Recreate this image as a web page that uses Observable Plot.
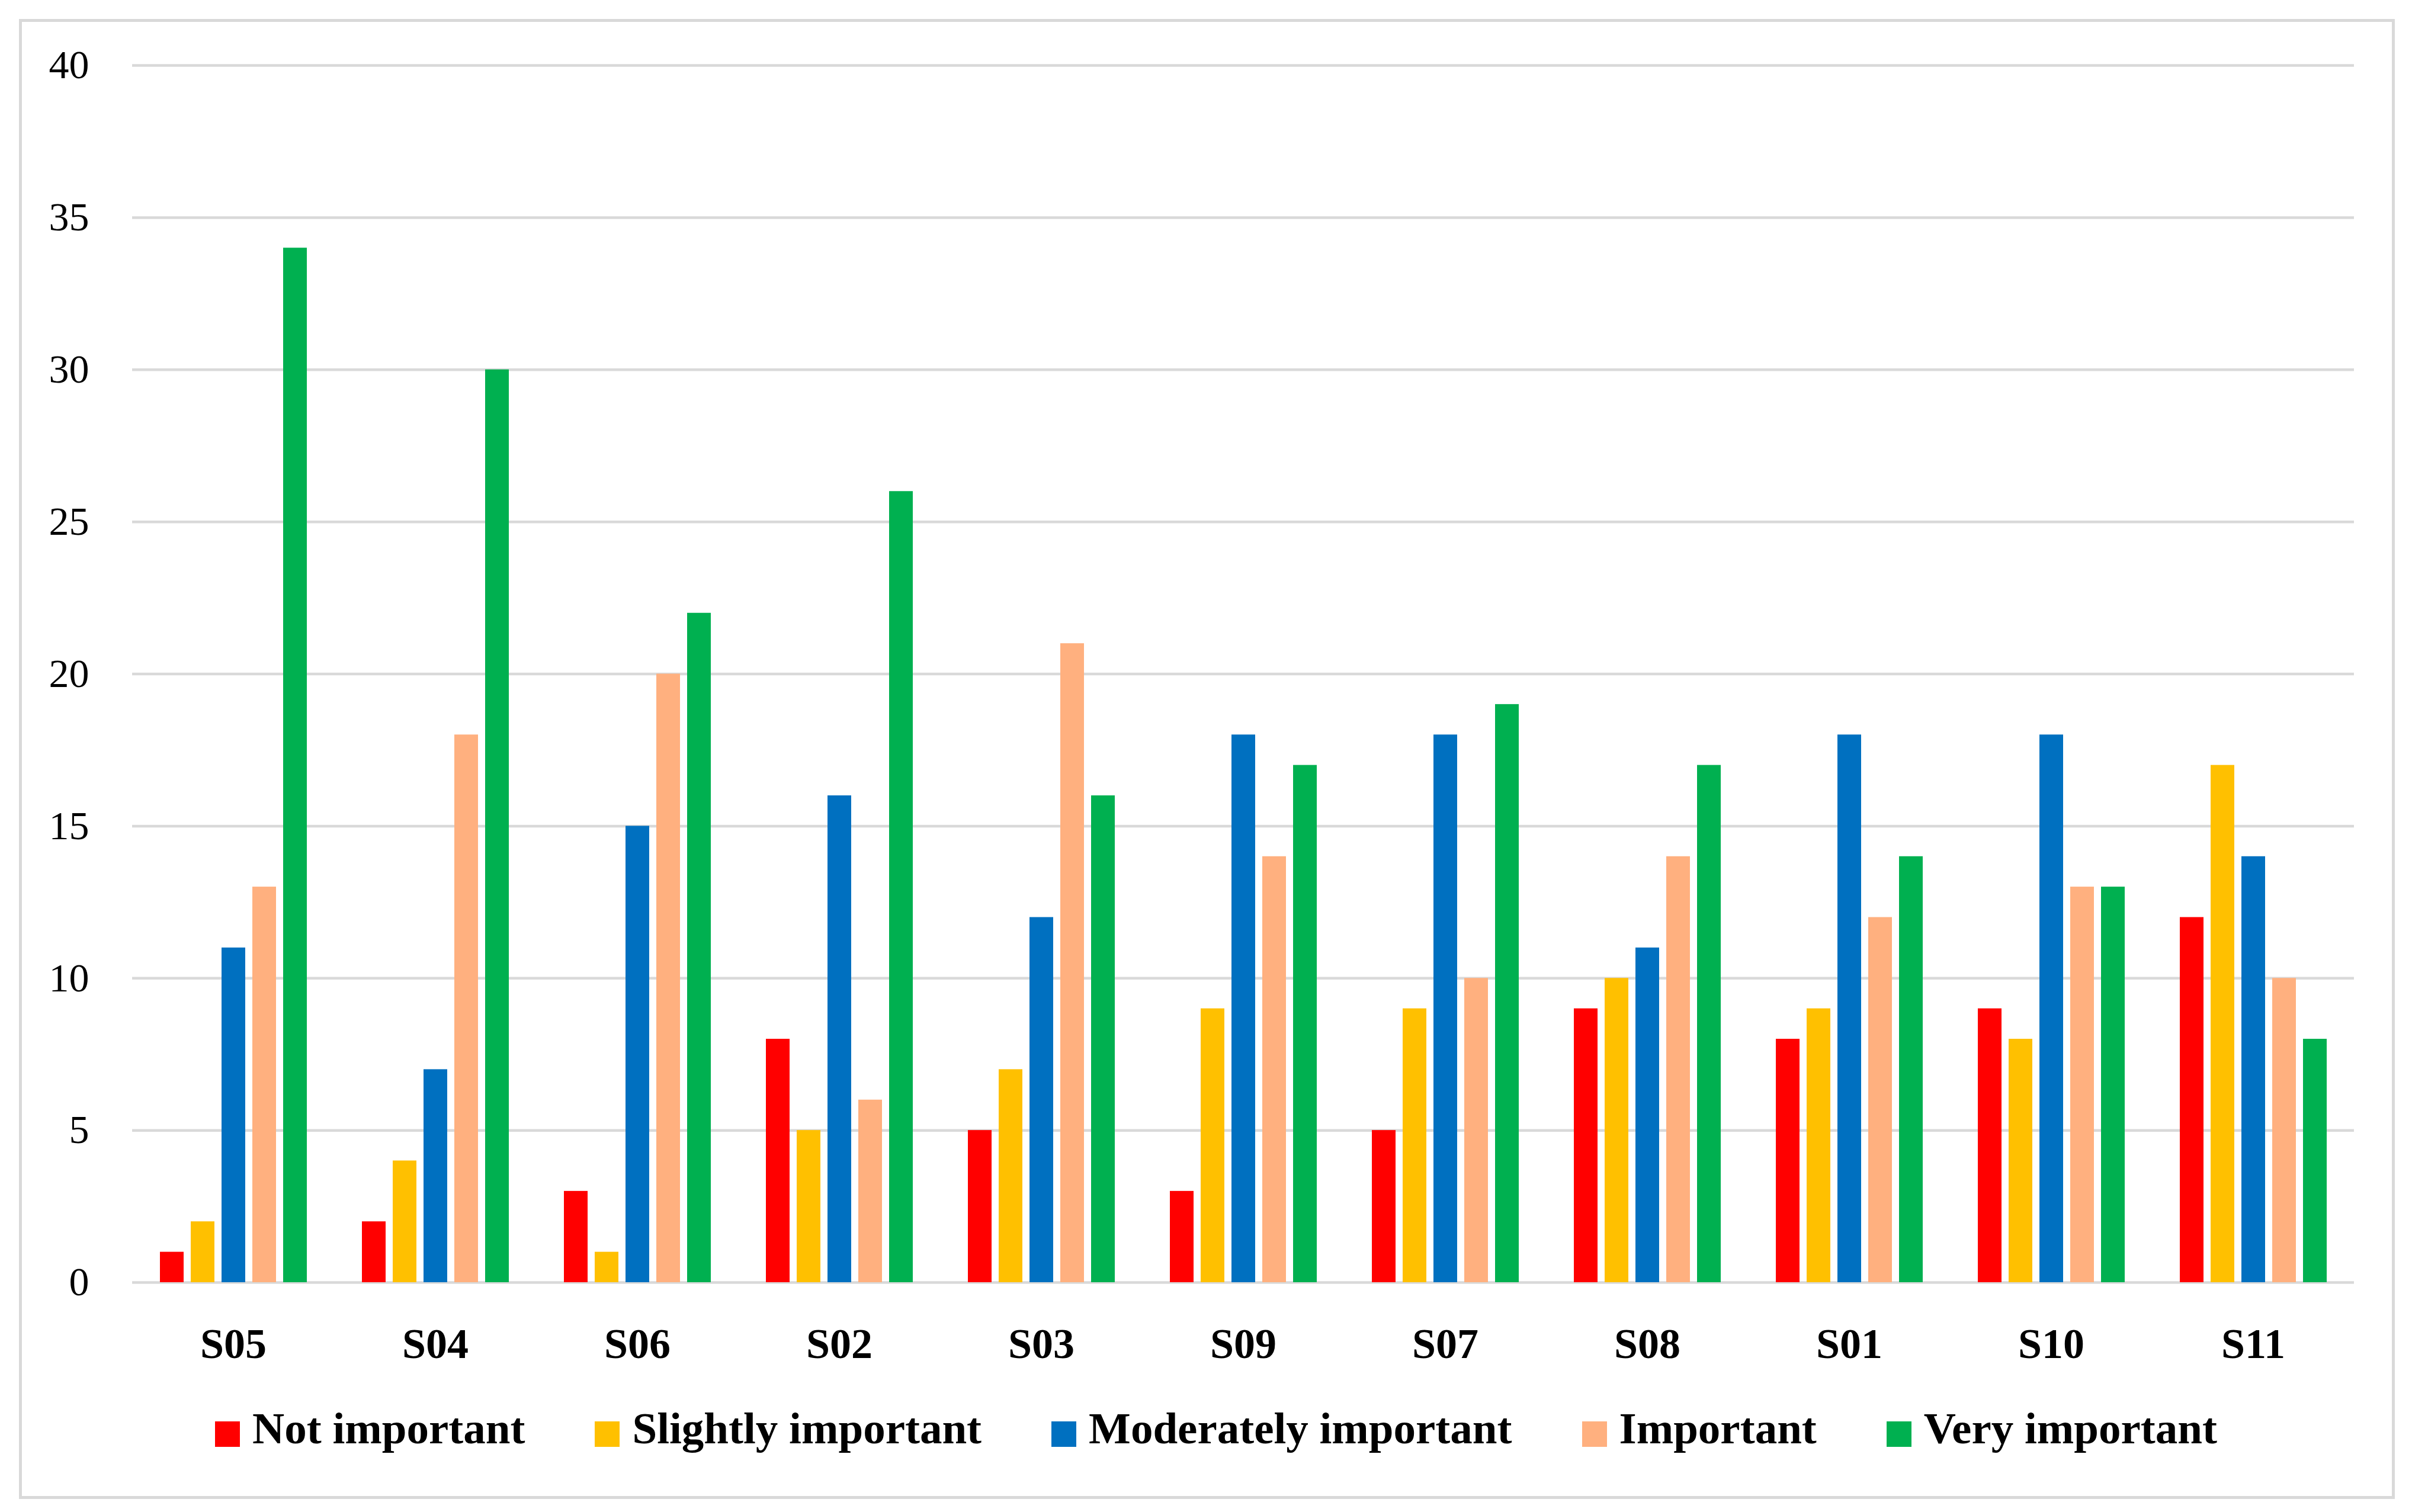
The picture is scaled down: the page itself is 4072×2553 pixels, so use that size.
<!DOCTYPE html>
<html>
<head>
<meta charset="utf-8">
<script src="https://cdn.jsdelivr.net/npm/d3@7"></script>
<script src="https://cdn.jsdelivr.net/npm/@observablehq/plot@0.6"></script>
<style>
  html, body { margin: 0; padding: 0; background: #fff; }
  body { width: 4072px; height: 2553px; position: relative; overflow: hidden; font-family: "Liberation Serif", "DejaVu Serif", serif; }
  #frame { position: absolute; left: 32px; top: 32px; width: 4011px; height: 2499px; border: 5px solid #d9d9d9; box-sizing: border-box; }
  #chart { position: absolute; left: 0; top: 0; }
  #legend { position: absolute; left: 0; top: 2374px; width: 4106px; display: flex; justify-content: center; align-items: flex-start; }
  .item { display: flex; align-items: flex-start; margin-right: 118px; }
  .item:last-child { margin-right: 0; }
  .sw { width: 42px; height: 43px; margin-top: 26px; margin-right: 21px; }
  .lab { font-size: 75px; line-height: 75px; font-weight: bold; color: #000; white-space: nowrap; }
</style>
</head>
<body>
<div id="frame"></div>
<div id="chart"></div>
<div id="legend"></div>
<script>
const categories = ["S05", "S04", "S06", "S02", "S03", "S09", "S07", "S08", "S01", "S10", "S11"];
const series = ["Not important", "Slightly important", "Moderately important", "Important", "Very important"];
const notImportant =        [1, 2, 3, 8, 5, 3, 5, 9, 8, 9, 12];
const slightlyImportant =   [2, 4, 1, 5, 7, 9, 9, 10, 9, 8, 17];
const moderatelyImportant = [11, 7, 15, 16, 12, 18, 18, 11, 18, 18, 14];
const important =           [13, 18, 20, 6, 21, 14, 10, 14, 12, 13, 10];
const veryImportant =       [34, 30, 22, 26, 16, 17, 19, 17, 14, 13, 8];
const yTicks = [0, 5, 10, 15, 20, 25, 30, 35, 40];
const colors = ["#FF0000", "#FFC000", "#0070C0", "#FFB07F", "#00B050"];

const seriesValues = [notImportant, slightlyImportant, moderatelyImportant, important, veryImportant];
const rows = [];
categories.forEach((c, i) => {
  series.forEach((s, j) => {
    rows.push({cat: c, series: s, value: seriesValues[j][i]});
  });
});

const chart = Plot.plot({
  width: 4072,
  height: 2340,
  marginLeft: 220,
  marginRight: 96,
  marginTop: 110,
  marginBottom: 175,
  style: {fontFamily: "'Liberation Serif', 'DejaVu Serif', serif", background: "transparent", color: "#000"},
  fx: {domain: categories, padding: 0, label: null, axis: null},
  x: {domain: series, paddingInner: 0.24, paddingOuter: 0.87, axis: null},
  y: {domain: [0, 40], label: null, axis: null},
  color: {domain: series, range: colors},
  marks: [
    Plot.gridY(yTicks, {stroke: "#d9d9d9", strokeOpacity: 1, strokeWidth: 4.5}),
    Plot.barY(rows, {fx: "cat", x: "series", y: "value", fill: "series"}),
    Plot.axisY({ticks: yTicks, tickSize: 0, tickPadding: 73, fontSize: 68, label: null}),
    Plot.axisFx({anchor: "bottom", tickSize: 0, tickPadding: 76, fontSize: 72, fontWeight: "bold", label: null})
  ]
});
document.getElementById("chart").appendChild(chart);

const legend = document.getElementById("legend");
series.forEach((s, j) => {
  const item = document.createElement("div");
  item.className = "item";
  const sw = document.createElement("div");
  sw.className = "sw";
  sw.style.background = colors[j];
  const lab = document.createElement("div");
  lab.className = "lab";
  lab.textContent = s;
  item.appendChild(sw);
  item.appendChild(lab);
  legend.appendChild(item);
});
</script>
</body>
</html>
